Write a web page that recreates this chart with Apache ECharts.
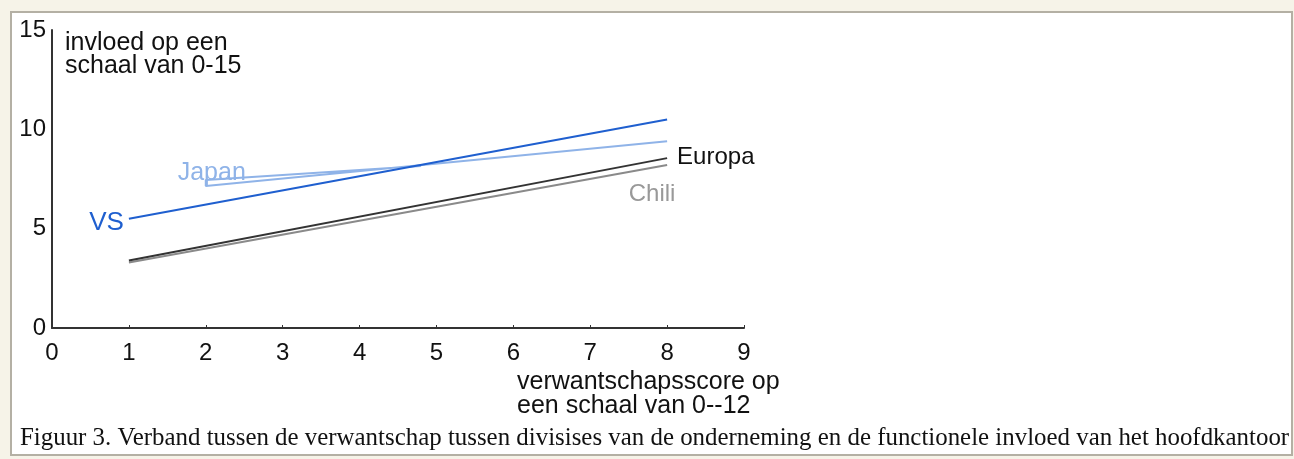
<!DOCTYPE html>
<html>
<head>
<meta charset="utf-8">
<script src="https://cdn.jsdelivr.net/npm/echarts@6/dist/echarts.min.js"></script>
<style>
  html, body { margin: 0; padding: 0; background: #f6f3e8; }
  #chart { width: 1294px; height: 459px; }
</style>
</head>
<body>
<div id="chart"></div>
<script>
// x = verwantschapsscore, y = invloed op het hoofdkantoor
const vsX = [1, 8]
const vsY = [5.5, 10.5]
// Japan has a small wedge at its start (leader towards the label)
const japanX = [4.8, 2, 2, 8]
const japanY = [8.15, 7.45, 7.15, 9.4]
const europaX = [1, 8]
const europaY = [3.4, 8.55]
const chiliX = [1, 8]
const chiliY = [3.3, 8.2]
const xTicks = [0, 1, 2, 3, 4, 5, 6, 7, 8, 9]
const yTicks = [0, 5, 10, 15]

const pairs = (xs, ys) => xs.map((x, i) => [x, ys[i]])

const myChart = echarts.init(document.getElementById('chart'))
const sans = 'Liberation Sans, Arial, sans-serif'

const pointLabel = (x, y, text, opts) => ({
  coord: [x, y],
  label: Object.assign({ show: true, formatter: text, fontFamily: sans }, opts)
})

myChart.setOption({
  animation: false,
  graphic: [
    {
      type: 'rect', z: -10, silent: true,
      shape: { x: 11, y: 12, width: 1281, height: 443 },
      style: { fill: '#ffffff', stroke: '#b4b0a4', lineWidth: 2 }
    },
    {
      type: 'text', left: 65, top: 31,
      style: { text: 'invloed op een\nschaal van 0-15', font: '25px ' + sans, fill: '#111', lineHeight: 23 }
    },
    {
      type: 'text', left: 517, top: 370,
      style: { text: 'verwantschapsscore op\neen schaal van 0--12', font: '25px ' + sans, fill: '#111', lineHeight: 24 }
    },
    {
      type: 'text', left: 20, top: 426,
      style: { text: 'Figuur 3. Verband tussen de verwantschap tussen divisises van de onderneming en de functionele invloed van het hoofdkantoor',
        font: '24.9px Liberation Serif, Times New Roman, serif', fill: '#111', lineHeight: 25 }
    }
  ],
  grid: { left: 52, right: 550, top: 30, bottom: 131 },
  xAxis: {
    type: 'value', min: 0, max: 9, interval: 1,
    axisLine: { lineStyle: { color: '#333', width: 2 } },
    axisTick: { inside: true, length: 3, lineStyle: { color: '#333' } },
    splitLine: { show: false },
    axisLabel: { color: '#111', fontSize: 24, fontFamily: sans, margin: 13,
      formatter: v => xTicks.includes(v) ? String(v) : '' }
  },
  yAxis: {
    type: 'value', min: 0, max: 15, interval: 5,
    axisLine: { show: true, lineStyle: { color: '#333', width: 2 } },
    axisTick: { show: false },
    splitLine: { show: false },
    axisLabel: { color: '#111', fontSize: 24, fontFamily: sans, margin: 6,
      formatter: v => yTicks.includes(v) ? String(v) : '' }
  },
  series: [
    {
      name: 'Chili', type: 'line', symbol: 'none',
      lineStyle: { color: '#8a8a8a', width: 2 },
      data: pairs(chiliX, chiliY),
      markPoint: {
        symbol: 'circle', symbolSize: 0,
        data: [pointLabel(chiliX[1], chiliY[1], 'Chili',
          { position: 'bottom', distance: 17, offset: [-15, 0], color: '#999', fontSize: 24 })]
      }
    },
    {
      name: 'Europa', type: 'line', symbol: 'none',
      lineStyle: { color: '#333', width: 2 },
      data: pairs(europaX, europaY),
      endLabel: { show: true, formatter: 'Europa', color: '#111', fontSize: 24, fontFamily: sans, distance: 10, offset: [0, -1] }
    },
    {
      name: 'Japan', type: 'line', symbol: 'none',
      lineStyle: { color: '#8fb3e8', width: 2 },
      data: pairs(japanX, japanY),
      markPoint: {
        symbol: 'circle', symbolSize: 0,
        data: [pointLabel(japanX[1], japanY[1], 'Japan',
          { position: 'top', distance: 0, offset: [6, 6], color: '#8fb3e8', fontSize: 25 })]
      }
    },
    {
      name: 'VS', type: 'line', symbol: 'none',
      lineStyle: { color: '#1f5fcf', width: 2 },
      data: pairs(vsX, vsY),
      markPoint: {
        symbol: 'circle', symbolSize: 0,
        data: [pointLabel(vsX[0], vsY[0], 'VS',
          { position: 'left', distance: 5, offset: [0, 4], color: '#1f5fcf', fontSize: 26 })]
      }
    }
  ]
})
</script>
</body>
</html>
